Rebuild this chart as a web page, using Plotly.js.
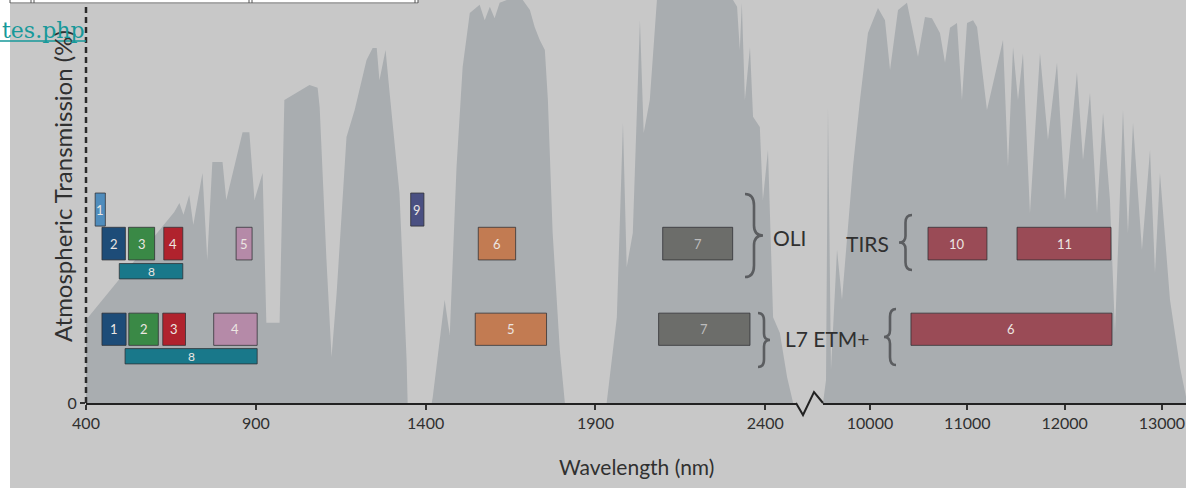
<!DOCTYPE html>
<html>
<head>
<meta charset="utf-8">
<script src="https://cdn.plot.ly/plotly-3.0.1.min.js"></script>
<style>
  html, body { margin: 0; padding: 0; background: #c8c8c8; }
  #chart { width: 1186px; height: 488px; }
</style>
</head>
<body>
<div id="chart"></div>
<script>
// ---------------- DATA ----------------
// Atmospheric transmission, visible / near- / short-wave infrared (nm, %)
const wlVisSwir = [400, 660, 675, 687, 704, 716, 743, 757, 772, 802, 813, 861, 881, 896, 920, 931, 970, 984, 999, 1058,
  1082, 1088, 1108, 1123, 1138, 1167, 1191, 1226, 1244, 1256, 1264, 1282, 1294, 1323, 1344, 1347, 1418, 1421, 1456, 1471,
  1491, 1509, 1530, 1559, 1574, 1589, 1603, 1618, 1639, 1686, 1707, 1721, 1736, 1751, 1760, 1774, 1795, 1810, 1933, 1963,
  1981, 1992, 2010, 2031, 2042, 2060, 2081, 2305, 2317, 2325, 2331, 2340, 2355, 2364, 2384, 2393, 2408, 2423, 2443, 2464, 2482];
const transVisSwir = [20.6, 47.4, 49.6, 46.7, 51.6, 44.2, 57.1, 35.5, 59.8, 59.8, 50.4, 67.2, 67.2, 50.4, 57.1, 19.9, 19.9, 75.2, 75.9, 78.9,
  78.2, 73.4, 35.5, 11.4, 27.3, 66.0, 72.7, 85.1, 88.1, 88.1, 80.1, 87.6, 76.9, 52.1, 10.7, 0, 0, 1.5, 25.6, 16.9,
  58.6, 83.4, 96.8, 98.8, 95.0, 98.3, 95.5, 99.3, 100, 100, 97.5, 93.3, 90.1, 87.6, 75.2, 42.2, 13.2, 0, 0, 21.3,
  69.5, 33.7, 42.2, 95.0, 67.0, 75.2, 100, 100, 98.3, 87.6, 99.3, 75.2, 88.3, 71.0, 68.5, 50.4, 62.8, 21.3, 17.4, 6.5, 0];

// Atmospheric transmission, thermal infrared (nm, %)
const wlThermal = [9517, 9548, 9568, 9599, 9661, 9712, 9825, 9897, 9979, 10082, 10154, 10206, 10288, 10380, 10432, 10493, 10565, 10637, 10719, 10771,
  10822, 10894, 10945, 10997, 11059, 11100, 11202, 11367, 11418, 11470, 11521, 11572, 11644, 11747, 11829, 11922, 12004, 12127, 12189, 12261,
  12333, 12395, 12466, 12518, 12600, 12651, 12703, 12795, 12878, 12929, 12980, 13083, 13186, 13248];
const transThermal = [0, 5.7, 73.4, 8.2, 38, 25.6, 58.6, 75.2, 91.8, 98, 95, 82.6, 97.5, 99.3, 93.3, 85.9, 95.8, 95.5, 91.8, 84.4,
  93.1, 94.3, 75.2, 94.3, 95, 93.3, 72.7, 90.1, 58.6, 88.3, 75.2, 86.8, 47.1, 86.8, 65.3, 84.4, 50.4, 82.1, 60.3, 76.9,
  47.1, 72, 50.4, 17.4, 72.7, 42.2, 69.5, 38, 62.8, 32.3, 57.1, 25.6, 8.9, 1.5];

// Landsat 8 OLI bands (nm)
const oliBand = ['1', '2', '3', '4', '5', '6', '7', '8', '9'];
const oliLo   = [427, 447, 525, 629, 842, 1555, 2098, 498, 1356];
const oliHi   = [457, 516, 602, 685, 889, 1665, 2304, 685, 1395];
// Landsat 8 TIRS bands (nm)
const tirsBand = ['10', '11'];
const tirsLo   = [10596, 11511];
const tirsHi   = [11202, 12477];
// Landsat 7 ETM+ bands (nm)
const etmBand = ['1', '2', '3', '4', '5', '7', '8', '6'];
const etmLo   = [447, 526, 626, 776, 1546, 2086, 515, 10421];
const etmHi   = [518, 613, 693, 904, 1756, 2355, 904, 12487];

// Axis ticks
const xTicksLeft  = [400, 900, 1400, 1900, 2400];
const xTicksRight = [10000, 11000, 12000, 13000];

// ---------------- LAYOUT / STYLE ----------------
const PL = 86, PW = 1100, PB = 403, PH = 403;
const px = x => (x - PL) / PW;
const py = y => (PB - y) / PH;

const FONT = 'Lato, "Open Sans", sans-serif';
const TEXT = '#303030';
const FILL = '#a9adb0';

// row vertical extents (in % units of the y axis)
const ROW = {
  oliTop: [43.9, 52.1], oli: [35.5, 43.6], oliPan: [30.8, 34.6],
  etm: [14.3, 22.3], etmPan: [9.7, 13.5]
};
const COLOR = {
  coastal: '#4f8cbc', blue: '#1d4c78', green: '#3a8946', red: '#b0222d',
  nir: '#b58aa8', swir1: '#c27b52', swir2: '#6c6d6a', pan: '#19788a',
  cirrus: '#4a5082', tir: '#9a4b56'
};
const oliStyle = { '1': 'coastal', '2': 'blue', '3': 'green', '4': 'red', '5': 'nir', '6': 'swir1', '7': 'swir2', '8': 'pan', '9': 'cirrus' };
const oliRow = { '1': 'oliTop', '9': 'oliTop', '8': 'oliPan' };
const etmStyle = { '1': 'blue', '2': 'green', '3': 'red', '4': 'nir', '5': 'swir1', '7': 'swir2', '8': 'pan', '6': 'tir' };
const etmRow = { '8': 'etmPan' };

const shapes = [];
const annotations = [];

function addBand(label, lo, hi, row, colorKey, xref) {
  const r = ROW[row];
  shapes.push({
    type: 'rect', xref: xref, yref: 'y', x0: lo, x1: hi, y0: r[0], y1: r[1],
    fillcolor: COLOR[colorKey], line: { color: 'rgba(45,45,50,0.75)', width: 1 }, layer: 'above'
  });
  annotations.push({
    xref: xref, yref: 'y', x: (lo + hi) / 2, y: (r[0] + r[1]) / 2, text: label, showarrow: false,
    font: { family: FONT, size: row.endsWith('Pan') ? 12 : 13, color: colorKey === 'swir2' ? '#bcbcbc' : '#ece6e2' },
    xanchor: 'center', yanchor: 'middle'
  });
}
oliBand.forEach((b, i) => addBand(b, oliLo[i], oliHi[i], oliRow[b] || 'oli', oliStyle[b], 'x'));
tirsBand.forEach((b, i) => addBand(b, tirsLo[i], tirsHi[i], 'oli', 'tir', 'x2'));
etmBand.forEach((b, i) => addBand(b, etmLo[i], etmHi[i], etmRow[b] || 'etm', etmStyle[b], b === '6' ? 'x2' : 'x'));

// curly braces (pixel geometry -> paper coords)
function brace(xl, xr, yt, yb, dir) {
  const ym = (yt + yb) / 2, xm = (xl + xr) / 2, h = yb - yt;
  const base = dir === 'right' ? xl : xr, tip = dir === 'right' ? xr : xl;
  const P = (x, y) => px(x).toFixed(5) + ',' + py(y).toFixed(5);
  const d = 'M' + P(base, yt) + ' Q' + P(xm, yt) + ' ' + P(xm, yt + h * 0.14) +
    ' L' + P(xm, ym - h * 0.12) + ' Q' + P(xm, ym) + ' ' + P(tip, ym) +
    ' Q' + P(xm, ym) + ' ' + P(xm, ym + h * 0.12) +
    ' L' + P(xm, yb - h * 0.14) + ' Q' + P(xm, yb) + ' ' + P(base, yb);
  shapes.push({ type: 'path', xref: 'paper', yref: 'paper', path: d, line: { color: '#5b5d60', width: 2.6 }, layer: 'above' });
}
brace(745, 763, 194, 277, 'right');
brace(758, 770, 313, 367, 'right');
brace(899, 912, 215, 270, 'left');
brace(884, 896, 309, 365, 'left');

function label(text, x, y, anchor) {
  annotations.push({ xref: 'paper', yref: 'paper', x: px(x), y: py(y), text: text, showarrow: false,
    xanchor: anchor, yanchor: 'middle', font: { family: FONT, size: 21, color: TEXT } });
}
label('OLI', 771, 237, 'left');
label('L7 ETM+', 783, 338, 'left');
label('TIRS', 891, 243, 'right');

// axis titles, placed where the reference has them (the x axis is broken in two)
annotations.push({ xref: 'paper', yref: 'paper', x: px(636), y: py(466), text: 'Wavelength (nm)', showarrow: false,
  xanchor: 'center', yanchor: 'middle', font: { family: FONT, size: 21, color: TEXT } });
annotations.push({ xref: 'paper', yref: 'paper', x: px(62), y: py(186), text: 'Atmospheric Transmission (%)', showarrow: false,
  textangle: -90, xanchor: 'center', yanchor: 'middle', font: { family: FONT, size: 24, color: TEXT } });

// dashed y axis
shapes.push({ type: 'line', xref: 'paper', yref: 'paper', x0: 0, x1: 0, y0: 0, y1: py(5),
  line: { color: '#2a2a2a', width: 2.5, dash: '6px,4px' }, layer: 'above' });
// axis break zigzag
shapes.push({ type: 'path', xref: 'paper', yref: 'paper',
  path: 'M' + px(796) + ',' + py(403) + ' L' + px(803) + ',' + py(415) + ' L' + px(814) + ',' + py(392) + ' L' + px(823) + ',' + py(403),
  line: { color: '#222', width: 2 }, layer: 'above' });

// page fragments around the screenshot (white strips, table borders, link text)
shapes.push({ type: 'rect', xref: 'paper', yref: 'paper', x0: px(0), x1: px(10), y0: py(488), y1: py(0),
  fillcolor: '#ffffff', line: { width: 0 }, layer: 'above' });
shapes.push({ type: 'rect', xref: 'paper', yref: 'paper', x0: px(0), x1: px(418), y0: py(4), y1: py(0),
  fillcolor: '#ffffff', line: { width: 0 }, layer: 'above' });
shapes.push({ type: 'line', xref: 'paper', yref: 'paper', x0: px(10), x1: px(418), y0: py(3), y1: py(3),
  line: { color: '#555', width: 1 }, layer: 'above' });
[10, 31, 34, 249, 252, 415, 418].forEach(x => shapes.push({ type: 'line', xref: 'paper', yref: 'paper',
  x0: px(x), x1: px(x), y0: py(3), y1: py(0), line: { color: '#555', width: 1 }, layer: 'above' }));
annotations.push({ xref: 'paper', yref: 'paper', x: px(0), y: py(30), text: 'tes.php', showarrow: false,
  xanchor: 'left', yanchor: 'middle', font: { family: '"DejaVu Serif", serif', size: 22, color: '#17999a' } });
shapes.push({ type: 'line', xref: 'paper', yref: 'paper', x0: px(0), x1: px(86), y0: py(41), y1: py(41),
  line: { color: '#17999a', width: 1.5 }, layer: 'above' });

const traces = [
  { x: wlVisSwir, y: transVisSwir, type: 'scatter', mode: 'lines', fill: 'tozeroy', fillcolor: FILL,
    line: { width: 0, color: FILL }, xaxis: 'x', yaxis: 'y', hoverinfo: 'skip', showlegend: false },
  { x: wlThermal, y: transThermal, type: 'scatter', mode: 'lines', fill: 'tozeroy', fillcolor: FILL,
    line: { width: 0, color: FILL }, xaxis: 'x2', yaxis: 'y', hoverinfo: 'skip', showlegend: false }
];

const axisCommon = {
  showgrid: false, zeroline: false, showline: true, linecolor: '#222', linewidth: 2,
  ticks: 'outside', ticklen: 5, tickwidth: 2, tickcolor: '#333',
  tickfont: { family: FONT, size: 16, color: TEXT }, fixedrange: true
};

const layout = {
  width: 1186, height: 488,
  margin: { l: PL, r: 0, t: 0, b: 488 - PB, pad: 0 },
  paper_bgcolor: '#c8c8c8', plot_bgcolor: '#c8c8c8',
  showlegend: false,
  xaxis: Object.assign({}, axisCommon, {
    domain: [0, px(797)], range: [400, 400 + (797 - 86.7) / 0.3393],
    tickmode: 'array', tickvals: xTicksLeft, ticktext: xTicksLeft.map(String), anchor: 'y'
  }),
  xaxis2: Object.assign({}, axisCommon, {
    domain: [px(823), 1], range: [10000 + (823 - 870) / 0.0973, 10000 + (1186 - 870) / 0.0973],
    tickmode: 'array', tickvals: xTicksRight, ticktext: xTicksRight.map(String), anchor: 'y'
  }),
  yaxis: {
    range: [0, 100], showgrid: false, zeroline: false, showline: false,
    tickmode: 'array', tickvals: [0], ticktext: ['0'], ticks: 'outside', ticklen: 5, tickwidth: 2, tickcolor: '#333',
    tickfont: { family: FONT, size: 16, color: TEXT }, fixedrange: true
  },
  shapes: shapes,
  annotations: annotations
};

Plotly.newPlot('chart', traces, layout, { staticPlot: true, displayModeBar: false });
</script>
</body>
</html>
